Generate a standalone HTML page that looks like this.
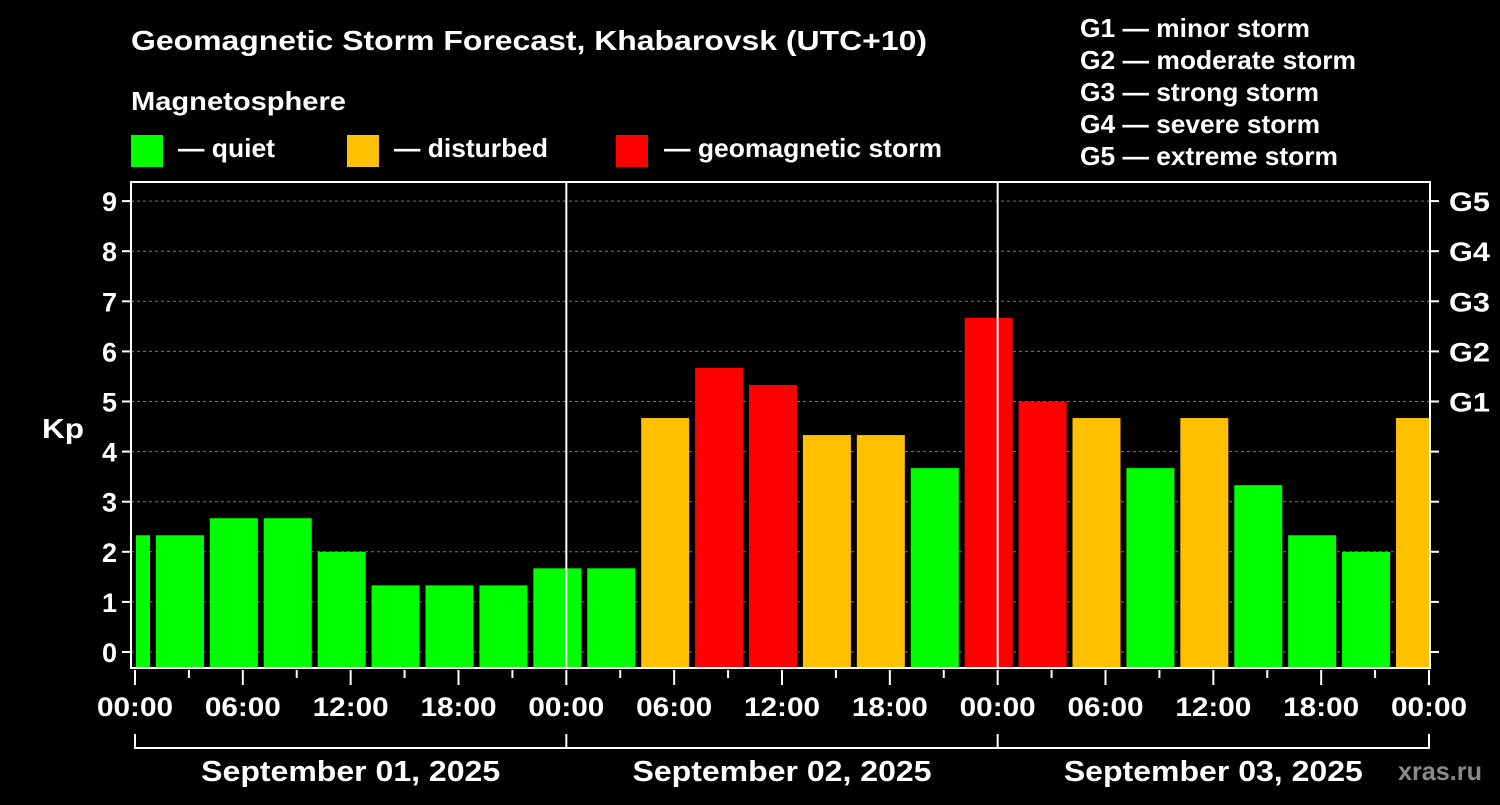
<!DOCTYPE html>
<html><head><meta charset="utf-8"><style>
body{margin:0;background:#000;width:1500px;height:800px;overflow:hidden;font-family:"Liberation Sans",sans-serif}
svg text{font-family:"Liberation Sans",sans-serif;font-weight:bold;fill:#fff}
</style></head><body>
<svg id="c" width="1500" height="800" xmlns="http://www.w3.org/2000/svg">
<text x="131" y="50" font-size="28" textLength="796" lengthAdjust="spacingAndGlyphs">Geomagnetic Storm Forecast, Khabarovsk (UTC+10)</text>
<text x="131" y="110" font-size="26" textLength="215" lengthAdjust="spacingAndGlyphs">Magnetosphere</text>
<rect x="131" y="135" width="32" height="32" fill="#00ff00"/>
<text x="178" y="157" font-size="26" textLength="97" lengthAdjust="spacingAndGlyphs">— quiet</text>
<rect x="347" y="135" width="32" height="32" fill="#ffc000"/>
<text x="394" y="157" font-size="26" textLength="154" lengthAdjust="spacingAndGlyphs">— disturbed</text>
<rect x="616" y="135" width="32" height="32" fill="#ff0000"/>
<text x="664" y="157" font-size="26" textLength="278" lengthAdjust="spacingAndGlyphs">— geomagnetic storm</text>
<g font-size="26">
<text x="1080" y="37" textLength="230" lengthAdjust="spacingAndGlyphs">G1 — minor storm</text>
<text x="1080" y="69" textLength="276" lengthAdjust="spacingAndGlyphs">G2 — moderate storm</text>
<text x="1080" y="101" textLength="239" lengthAdjust="spacingAndGlyphs">G3 — strong storm</text>
<text x="1080" y="133" textLength="240" lengthAdjust="spacingAndGlyphs">G4 — severe storm</text>
<text x="1080" y="165" textLength="258" lengthAdjust="spacingAndGlyphs">G5 — extreme storm</text>
</g>
<text x="42" y="438" font-size="28" textLength="42" lengthAdjust="spacingAndGlyphs">Kp</text>
<text x="1398" y="780" font-size="26" textLength="84" lengthAdjust="spacingAndGlyphs" style="fill:#8a8a8a">xras.ru</text>
<g id="plot"></g>
</svg>
<script>
const kpValues=[2.33,2.33,2.67,2.67,2,1.33,1.33,1.33,1.67,1.67,4.67,5.67,5.33,4.33,4.33,3.67,6.67,5,4.67,3.67,4.67,3.33,2.33,2,4.67];
const yTicks=[0,1,2,3,4,5,6,7,8,9];
const gLabels=["G1","G2","G3","G4","G5"];
const gLevels=[5,6,7,8,9];
const xTickLabels=["00:00","06:00","12:00","18:00","00:00","06:00","12:00","18:00","00:00","06:00","12:00","18:00","00:00"];
const dayLabels=["September 01, 2025","September 02, 2025","September 03, 2025"];
const L=131,R=1430,T=182,B=668,X0=135,X1=1429;
const y=v=>652-v*50.1;
const x=h=>X0+h*(X1-X0)/72;
const ns="http://www.w3.org/2000/svg",P=document.getElementById('plot');
function mk(t,a,txt){const e=document.createElementNS(ns,t);for(const k in a)e.setAttribute(k,a[k]);if(txt!=null)e.textContent=txt;P.appendChild(e);return e;}
function col(v){return v>=5?"#ff0000":v>=4?"#ffc000":"#00ff00";}
yTicks.forEach(v=>{
 const g=mk('line',{x1:L,x2:R,y1:y(v),y2:y(v),stroke:'#777','stroke-dasharray':'3,3','stroke-width':1});
 
 const t=mk('line',{x1:L-9,x2:L,y1:y(v),y2:y(v),stroke:'#fff','stroke-width':2});
 
 const t2=mk('line',{x1:R,x2:R+9,y1:y(v),y2:y(v),stroke:'#fff','stroke-width':2});
 
 const l=mk('text',{x:L-14,y:y(v)+10,'font-size':27,'text-anchor':'end'},v);
 
});
gLevels.forEach((v,i)=>{const l=mk('text',{x:R+19,y:y(v)+10,'font-size':27,textLength:41,lengthAdjust:'spacingAndGlyphs'},gLabels[i]);
 });
kpValues.forEach((v,k)=>{
 const c=(3*k-0.5);
 let a=x(c)-24,b=x(c)+24;a=Math.max(a,136);b=Math.min(b,X1);
 const r=mk('rect',{x:a,y:y(v),width:b-a,height:B-y(v),fill:col(v)});
 
});
[24,48].forEach(h=>{const l=mk('line',{x1:x(h),x2:x(h),y1:T,y2:B,stroke:'#fff','stroke-width':2});
 });
const fr=mk('rect',{x:L,y:T,width:R-L,height:B-T,fill:'none',stroke:'#fff','stroke-width':2});

for(let h=0;h<=72;h+=3){const maj=h%6==0;
 const t=mk('line',{x1:x(h),x2:x(h),y1:B+2,y2:B+(maj?17:10),stroke:'#fff','stroke-width':2});
 }
xTickLabels.forEach((s,i)=>{const l=mk('text',{x:x(i*6),y:716,'font-size':27,'text-anchor':'middle',textLength:76,lengthAdjust:'spacingAndGlyphs'},s);
 });
const br=mk('path',{d:`M${x(0)},734V748H${x(72)}V734M${x(24)},734V748M${x(48)},734V748`,stroke:'#fff','stroke-width':2,fill:'none'});

dayLabels.forEach((s,i)=>{const l=mk('text',{x:x(i*24+12),y:781,'font-size':29,'text-anchor':'middle',textLength:299,lengthAdjust:'spacingAndGlyphs'},s);
 });
</script>
</body></html>
